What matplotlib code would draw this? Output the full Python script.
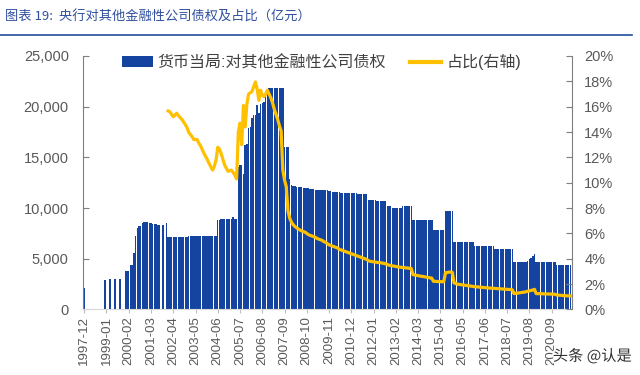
import numpy as np
import pandas as pd
import matplotlib
matplotlib.use('Agg')
import matplotlib.pyplot as plt
from matplotlib.lines import Line2D
from matplotlib.patches import Patch
import matplotlib.patheffects as pe

plt.rcParams['font.family'] = ['Liberation Sans', 'Noto Sans CJK SC', 'DejaVu Sans']

nan = np.nan

# 央行对其他金融性公司债权 (亿元), monthly from 1997-12
claims_start = '1997-12'
claims = (
    [2100] +                                                                    # 1997-12
    [nan, nan, nan, nan, nan, nan, nan, nan, nan, nan, nan, 2950] +             # 1998
    [nan, nan, 2960, nan, nan, 2970, nan, nan, 2980, nan, nan, 3830] +          # 1999
    [3830, 3830, 4390, 4390, 5600, 7250, 8000, 8200, 8250, 8550, 8650, 8650] +  # 2000
    [8600, 8550, 8500, 8450, 8400, 8400, 8350, 8300, nan, 8300, nan, 8560] +    # 2001
    [7130, 7140, 7150, 7150, 7160, 7160, 7170, 7170, 7180, 7180, 7190, 7190] +  # 2002
    [7200, 7200, 7200, 7210, 7210, 7210, 7220, 7220, 7220, 7230, 7230, 7230] +  # 2003
    [7240, 7240, 7240, 7250, 7250, 8850, 8870, 8880, 8880, 8890, 8890, 8900] +  # 2004
    [8900, 8900, 9150, 8880, 8880, 14080, 14200, 14250, 13400, 16200, 16300, 17900] +  # 2005
    [18000, 18850, 19200, 19200, 20200, 19400, 20300, 20400, 20500, 21300, 21400, 21800] +  # 2006
    [21800, 21850, 21850, 21850, 21850, 21850, 21850, 21800, 16000, 16000, 16000, 12900] +  # 2007
    [12300, 12200, 12150, 12120, 12100, 12080, 12050, 12020, 12000, 11980, 11950, 11880] +  # 2008
    [11860, 11850, 11830, 11820, 11800, 11790, 11780, 11760, 11750, 11740, 11720, 11650] +  # 2009
    [11630, 11610, 11590, 11570, 11550, 11530, 11510, 11490, 11470, 11450, 11450, 11450] +  # 2010
    [11450, 11450, 11450, 11350, 11350, 11350, 11350, 11350, 11350, 10800, 10800, 10800] +  # 2011
    [10800, 10800, 10650, 10650, 10650, 10650, 10650, 10650, 10200, 10200, 10200, 9980] +   # 2012
    [9980, 9980, 9980, 9980, 9980, 10200, 10200, 10200, 10200, 10200, 10200, 8850] +        # 2013
    [8850, 8850, 8850, 8850, 8850, 8850, 8850, 8850, 8850, 8850, 8850, 7800] +              # 2014
    [7800, 7800, 7800, 7800, 7800, 7800, 9680, 9680, 9680, 9680, 9680, 6630] +              # 2015
    [6630, 6630, 6630, 6630, 6630, 6630, 6630, 6630, 6630, 6630, 6630, 6280] +              # 2016
    [6280, 6280, 6280, 6280, 6280, 6280, 6280, 6280, 6280, 6280, 6280, 5930] +              # 2017
    [5930, 5930, 5930, 5930, 5930, 5930, 5930, 5930, 5930, 5930, 4640, 4640] +              # 2018
    [4640, 4640, 4640, 4640, 4640, 4640, 4800, 4950, 5100, 5300, 5500, 4710] +              # 2019
    [4710, 4710, 4710, 4710, 4710, 4710, 4710, 4710, 4710, 4710, 4710, 4380] +              # 2020
    [4380, 4380, 4380, 4380, 4380, 4380, 4380, 4380]                                        # 2021
)

# 占比 (%), monthly from 2002-01
ratio_start = '2002-01'
ratio = (
    [15.66, 15.6, 15.4, 15.2, 15.35, 15.48, 15.3, 15.15, 15.0, 14.8, 14.6, 14.35] +   # 2002
    [14.0, 13.8, 13.65, 13.4, 13.42, 13.4, 13.1, 12.9, 12.6, 12.3, 12.05, 11.8] +     # 2003
    [11.5, 11.25, 11.0, 11.3, 11.8, 12.8, 12.65, 12.3, 11.85, 11.4, 11.15, 10.9] +    # 2004
    [10.95, 11.0, 10.8, 10.6, 10.3, 14.0, 14.7, 13.0, 16.1, 14.4, 16.2, 17.0] +       # 2005
    [17.1, 17.2, 17.6, 17.95, 17.4, 16.5, 17.3, 16.9, 16.8, 17.0, 17.3, 17.0] +       # 2006
    [16.7, 16.3, 15.8, 15.4, 15.0, 14.5, 14.1, 11.0, 10.2, 9.7, 7.8, 7.2] +           # 2007
    [6.9, 6.7, 6.55, 6.45, 6.35, 6.27, 6.2, 6.15, 6.1, 6.0, 5.9, 5.85] +              # 2008
    [5.8, 5.75, 5.7, 5.6, 5.55, 5.5, 5.45, 5.35, 5.3, 5.2, 5.1, 5.05] +               # 2009
    [5.0, 4.95, 4.9, 4.85, 4.75, 4.7, 4.65, 4.6, 4.55, 4.5, 4.45, 4.4] +              # 2010
    [4.35, 4.3, 4.25, 4.2, 4.15, 4.1, 4.05, 4.0, 3.95, 3.85, 3.8, 3.78] +             # 2011
    [3.76, 3.74, 3.72, 3.7, 3.69, 3.66, 3.64, 3.6, 3.55, 3.5, 3.47, 3.44] +           # 2012
    [3.42, 3.39, 3.37, 3.35, 3.33, 3.31, 3.3, 3.28, 3.27, 3.25, 3.24, 2.75] +         # 2013
    [2.72, 2.7, 2.67, 2.64, 2.62, 2.6, 2.57, 2.55, 2.52, 2.5, 2.47, 2.22] +           # 2014
    [2.22, 2.21, 2.2, 2.2, 2.19, 2.19, 2.9, 2.92, 2.95, 2.95, 2.93, 2.1] +            # 2015
    [2.05, 2.0, 1.98, 1.96, 1.94, 1.92, 1.9, 1.88, 1.86, 1.84, 1.82, 1.8] +           # 2016
    [1.79, 1.78, 1.76, 1.75, 1.74, 1.73, 1.71, 1.7, 1.69, 1.68, 1.67, 1.66] +         # 2017
    [1.65, 1.64, 1.63, 1.62, 1.61, 1.6, 1.59, 1.58, 1.57, 1.56, 1.26, 1.27] +         # 2018
    [1.29, 1.31, 1.33, 1.35, 1.37, 1.4, 1.44, 1.47, 1.5, 1.54, 1.59, 1.25] +          # 2019
    [1.25, 1.25, 1.24, 1.24, 1.23, 1.23, 1.22, 1.22, 1.21, 1.21, 1.2, 1.14] +         # 2020
    [1.13, 1.12, 1.11, 1.1, 1.09, 1.08, 1.08, 1.07]                                   # 2021
)

bar_label = '货币当局:对其他金融性公司债权'
line_label = '占比(右轴)'
title = '图表 19:  央行对其他金融性公司债权及占比（亿元）'

months = pd.date_range(claims_start, periods=len(claims), freq='MS')
x = np.arange(len(claims))
x_ratio = np.arange(len(ratio)) + months.get_loc(pd.Timestamp(ratio_start))

bar_color = '#1443A0'
line_color = '#FFC000'
text_color = '#595959'

fig = plt.figure(figsize=(6.4, 3.75), dpi=100)
ax = fig.add_axes([0.1292, 0.1747, 0.764, 0.676])
ax2 = ax.twinx()

ax.bar(x, claims, width=0.85, color=bar_color, edgecolor='none')
ax2.plot(x_ratio, ratio, color=line_color, lw=2.3, solid_joinstyle='round')

ax.set_xlim(-0.9, len(claims) - 0.3)
ax.set_ylim(0, 25000)
ax2.set_ylim(0, 20)

ax.set_yticks(np.arange(0, 25001, 5000))
ax.set_yticklabels([f'{v:,}' for v in range(0, 25001, 5000)])
ax2.set_yticks(np.arange(0, 21, 2))
ax2.set_yticklabels([f'{v}%' for v in range(0, 21, 2)])

tick_pos = x[::13]
ax.set_xticks(tick_pos)
ax.set_xticklabels([months[i].strftime('%Y-%m') for i in tick_pos], rotation=90)

for a in (ax, ax2):
    a.spines['top'].set_visible(False)
    a.spines['left'].set_color('#7F7F7F')
    a.spines['right'].set_color('#7F7F7F')
    a.spines['bottom'].set_color('#D9D9D9')
ax.spines['right'].set_visible(False)
ax2.spines['left'].set_visible(False)
ax2.spines['bottom'].set_visible(False)

ax.tick_params(axis='y', direction='in', length=4, color='#7F7F7F', pad=10,
               labelsize=10.5, labelcolor=text_color)
ax2.tick_params(axis='y', direction='in', length=4, color='#7F7F7F', pad=9,
                labelsize=10.5, labelcolor=text_color)
ax.tick_params(axis='x', direction='out', length=3, color='#BFBFBF', pad=2,
               labelsize=9.5, labelcolor=text_color)

handles = [Patch(facecolor=bar_color, edgecolor='none'),
           Line2D([0], [0], color=line_color, lw=3)]
ax.legend(handles, [bar_label, line_label], loc='center left',
          bbox_to_anchor=(0.08, 0.976), ncol=2, frameon=False,
          fontsize=11.5, handlelength=1.95, handletextpad=0.3, columnspacing=1.5,
          borderpad=0, borderaxespad=0, labelcolor='#404040')

fig.text(0.008, 0.955, title, fontsize=9.5, color='#2F4F9E', va='center',
         family=['Noto Sans CJK SC', 'DejaVu Sans'])
fig.add_artist(Line2D([0, 0.988], [0.907, 0.907], color='#1F4E9A', lw=1.2))

fig.text(0.987, 0.05, '头条 @认是', ha='right', va='center', fontsize=11,
         color='#303030', family=['Noto Sans CJK SC', 'DejaVu Sans'],
         path_effects=[pe.withStroke(linewidth=2.5, foreground='white')])

fig.savefig('out.png', dpi=100)
